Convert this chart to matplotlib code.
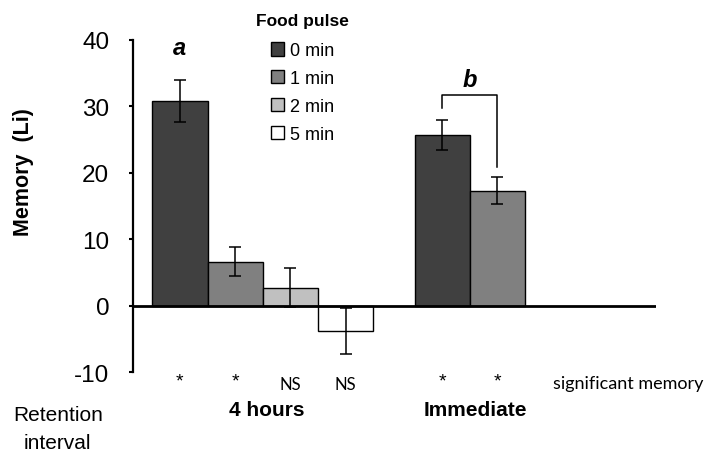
import matplotlib.pyplot as plt

# Data
pulse_labels = ['0 min', '1 min', '2 min', '5 min']
colors = ['#404040', '#808080', '#c0c0c0', '#ffffff']
hours4_values = [30.8, 6.6, 2.7, -3.8]
hours4_errors = [3.2, 2.2, 2.9, 3.5]
immediate_values = [25.7, 17.3]
immediate_errors = [2.2, 2.0]
hours4_sig = ['*', '*', 'NS', 'NS']
immediate_sig = ['*', '*']

plt.rcParams['font.family'] = ['Liberation Sans', 'DejaVu Sans']
plt.rcParams['axes.unicode_minus'] = False

fig = plt.figure(figsize=(7.13, 4.6), dpi=100)
ax = fig.add_axes([0.1865, 0.189, 0.7335, 0.722])

# x positions of bars
x4 = [0, 1, 2, 3]
xi = [4.75, 5.75]

bars = []
for i in range(4):
    b = ax.bar(x4[i], hours4_values[i], width=1.0, color=colors[i], edgecolor='black',
               linewidth=1.0, label=pulse_labels[i], zorder=2)
    bars.append(b)
for i in range(2):
    ax.bar(xi[i], immediate_values[i], width=1.0, color=colors[i], edgecolor='black',
           linewidth=1.0, zorder=2)

ax.errorbar(x4, hours4_values, yerr=hours4_errors, fmt='none', ecolor='black',
            elinewidth=1.1, capsize=4, capthick=1.1, zorder=3)
ax.errorbar(xi, immediate_values, yerr=immediate_errors, fmt='none', ecolor='black',
            elinewidth=1.1, capsize=4, capthick=1.1, zorder=3)

# zero line
ax.axhline(0, color='black', linewidth=2.0, zorder=4)

ax.set_xlim(-0.85, 8.62)
ax.set_ylim(-10, 40)
ax.set_yticks([-10, 0, 10, 20, 30, 40])
ax.set_xticks([])
for side in ['top', 'right', 'bottom']:
    ax.spines[side].set_visible(False)
ax.spines['left'].set_linewidth(1.6)
ax.tick_params(axis='y', direction='out', length=3, width=1.5, pad=14, labelsize=17.5)
ax.set_ylabel('Memory  (Li)', fontsize=15.5, fontweight='bold')
ax.yaxis.set_label_coords(-0.19, 0.605)

# significance letters
ax.text(0, 38.8, 'a', fontsize=17, fontweight='bold', fontstyle='italic', ha='center', va='center')
ax.text(5.25, 34.0, 'b', fontsize=17, fontweight='bold', fontstyle='italic', ha='center', va='center')
ax.plot([xi[0], xi[0], xi[1], xi[1]], [29.8, 31.7, 31.7, 20.9], color='black', linewidth=1.1,
        clip_on=False)

# significance marks under bars
for x, s in zip(x4 + xi, hours4_sig + immediate_sig):
    if s == '*':
        ax.text(x, -11.3, s, fontsize=14, ha='center', va='center', clip_on=False)
    else:
        ax.text(x, -11.8, s, fontsize=12, family=['Lato', 'DejaVu Sans'],
                ha='center', va='center', clip_on=False)
ax.text(6.76, -11.6, 'significant memory', fontsize=13, family=['Lato', 'DejaVu Sans'],
        ha='left', va='center', clip_on=False)

# retention interval labels
ax.text(-2.21, -18.5, 'Retention\ninterval', fontsize=15, ha='center', va='center',
        linespacing=1.6, clip_on=False)
ax.text(1.58, -15.6, '4 hours', fontsize=15, fontweight='bold', ha='center', va='center', clip_on=False)
ax.text(5.35, -15.6, 'Immediate', fontsize=15, fontweight='bold', ha='center', va='center', clip_on=False)

leg = ax.legend(handles=bars, title='Food pulse', loc='upper left',
                bbox_to_anchor=(0.235, 1.08), frameon=False, fontsize=13,
                handlelength=0.75, handleheight=0.75, handletextpad=0.3, labelspacing=0.6,
                borderaxespad=0, borderpad=0)
leg.get_title().set_fontweight('bold')
leg.get_title().set_fontsize(12.5)
leg._legend_box.sep = 10

plt.savefig('out.png', dpi=100)
plt.close()
